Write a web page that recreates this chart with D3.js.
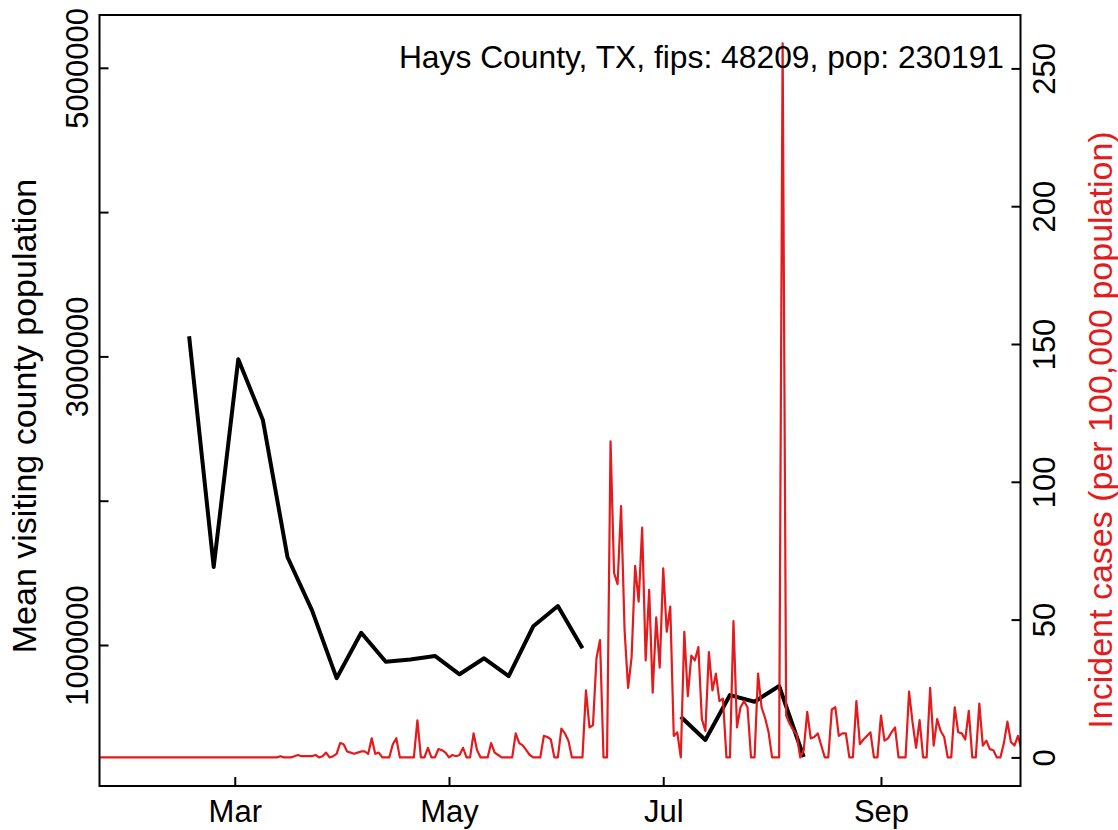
<!DOCTYPE html>
<html><head><meta charset="utf-8">
<script src="https://cdn.jsdelivr.net/npm/d3@7"></script>
<style>body{margin:0;background:#fff} svg{display:block} text{font-family:"Liberation Sans",Arial,sans-serif}</style>
</head><body><svg id="c" width="1118" height="830"></svg>
<script>
// ---------------- data ----------------
const redStartDate = "2020-01-22"; // daily series start
const redValues = [
0,0,0,0,0,0,0,0,0,0,
0,0,0,0,0,0,0,0,0,0,
0,0,0,0,0,0,0,0,0,0,
0,0,0,0,0,0,0,0,0,0,
0,0,0,0,0,0,0,0,0,0,
0,0,0.43,0,0,0,0.43,0.87,0.43,0.43,
0.43,0.43,0.87,0,0.43,1.74,0,0.43,1.3,5.21,
4.78,2.17,1.74,1.3,1.74,2.17,2.17,1.3,6.95,1.3,
1.74,0,0,0,4.78,6.95,0,0,0,0,
0,13.47,0,0,3.48,0,0,3.04,2.61,1.74,
0,0.87,0.43,0.87,3.48,0,0,8.69,2.61,0,
0,0,5.21,1.74,0.87,0,0,0,0,8.69,
5.21,4.34,2.61,0.87,0,0,0,7.82,7.39,6.52,
0,0,10.43,8.69,6.08,0,0,0,0,24.33,
10.86,11.73,36.06,42.57,0,0,114.7,66.9,62.9,91.2,
46.0,25.2,36.5,69.5,56.5,83.4,35.2,60.8,23.5,50.8,
32.6,68.6,45.6,54.7,7.8,9.1,0,45.6,22.2,36.9,
35.2,40.0,13.9,9.6,38.2,24.3,30.4,20.4,21.3,0,
0,49.5,10.9,18.2,20.4,18.2,0,0,30.4,18.2,
14.3,9.1,0,0,0,259.1,15.2,12.2,10.0,8.3,
0,2.6,16.5,6.9,7.4,8.7,4.3,0,0,17.4,
18.2,7.8,8.7,8.7,0,0,20.4,4.8,6.5,7.8,
9.1,0,0,15.2,6.1,6.9,9.1,10.9,0,0,
0,23.9,12.6,3.5,13.5,0,0,25.2,4.3,13.9,
9.6,7.4,0,0,18.2,9.1,8.7,6.5,16.9,0,
0,19.5,4.3,6.1,3.0,2.6,0,0,5.2,13.0,
5.6,4.3,7.8,3.0
];
const blackStartDate = "2020-02-17"; // weekly series start
const blackValues = [
3140000,1540000,2980000,2560000,1610000,1240000,770000,1085000,884000,900000,
924000,797000,908000,785000,1130000,1270000,977000,null,null,null,
503000,342000,653000,607000,716000,224000
];
const leftTicks = [1000000,2000000,3000000,4000000,5000000];
const leftTickLabels = ["1000000","","3000000","","5000000"];
const rightTicks = [0,50,100,150,200,250];
const xTickDates = ["2020-03-01","2020-05-01","2020-07-01","2020-09-01"];
const xTickLabels = ["Mar","May","Jul","Sep"];
const titleText = "Hays County, TX, fips: 48209, pop: 230191";
const leftLabel = "Mean visiting county population";
const rightLabel = "Incident cases (per 100,000 population)";

// ---------------- layout ----------------
const RED = "#E41A1C";
const box = {l: 99.5, r: 1020.5, t: 15, b: 786};
const dayMs = 86400000;
const parse = s => new Date(s + "T00:00:00Z");
const red0 = parse(redStartDate);
const black0 = parse(blackStartDate);
const redData = redValues.map((v, i) => ({d: new Date(+red0 + i * dayMs), v}));
const blackData = blackValues.map((v, i) => ({d: new Date(+black0 + i * 7 * dayMs), v}));

const x = d3.scaleUtc()
  .domain([red0, new Date(+red0 + 262 * dayMs)])
  .range([97.8, 97.8 + 262 * 3.512]);
const yR = d3.scaleLinear().domain([0, 250]).range([757.4, 68.4]);
const yL = d3.scaleLinear().domain([1000000, 5000000]).range([645, 67.8]);

const svg = d3.select("#c");
svg.append("defs").append("clipPath").attr("id", "clip")
  .append("rect").attr("x", box.l).attr("y", box.t)
  .attr("width", box.r - box.l).attr("height", box.b - box.t);

const plot = svg.append("g").attr("clip-path", "url(#clip)");

plot.append("path").datum(blackData)
  .attr("fill", "none").attr("stroke", "#000").attr("stroke-width", 4)
  .attr("stroke-linejoin", "round")
  .attr("d", d3.line().defined(d => d.v != null).x(d => x(d.d)).y(d => yL(d.v)));

plot.append("path").datum(redData)
  .attr("fill", "none").attr("stroke", RED).attr("stroke-width", 2.2)
  .attr("stroke-linejoin", "round")
  .attr("d", d3.line().x(d => x(d.d)).y(d => yR(d.v)));

// box
svg.append("rect").attr("x", box.l).attr("y", box.t)
  .attr("width", box.r - box.l).attr("height", box.b - box.t)
  .attr("fill", "none").attr("stroke", "#000").attr("stroke-width", 2);

const FS = 31;
// bottom axis
const gx = svg.append("g").attr("transform", `translate(0,${box.b})`)
  .call(d3.axisBottom(x).tickValues(xTickDates.map(parse))
    .tickFormat((d, i) => xTickLabels[i]).tickSize(-9).tickPadding(14));
gx.select(".domain").remove();
gx.selectAll("line").attr("stroke", "#000").attr("stroke-width", 2);
gx.selectAll("text").attr("font-size", FS).attr("fill", "#000")
  .style("font-family", "'Liberation Sans',Arial,sans-serif");

// left axis
const gl = svg.append("g").attr("transform", `translate(${box.l},0)`)
  .call(d3.axisLeft(yL).tickValues(leftTicks)
    .tickFormat((d, i) => leftTickLabels[i]).tickSize(-9));
gl.select(".domain").remove();
gl.selectAll("line").attr("stroke", "#000").attr("stroke-width", 2);
gl.selectAll("text").attr("font-size", FS).attr("fill", "#000")
  .attr("x", null).attr("dy", null).attr("text-anchor", "middle")
  .attr("transform", "translate(-11.5,0) rotate(-90)")
  .style("font-family", "'Liberation Sans',Arial,sans-serif");

// right axis
const gr = svg.append("g").attr("transform", `translate(${box.r},0)`)
  .call(d3.axisRight(yR).tickValues(rightTicks).tickFormat(d3.format("d")).tickSize(-9));
gr.select(".domain").remove();
gr.selectAll("line").attr("stroke", "#000").attr("stroke-width", 2);
gr.selectAll("text").attr("font-size", FS).attr("fill", "#000")
  .attr("x", null).attr("dy", null).attr("text-anchor", "middle")
  .attr("transform", "translate(34.5,0) rotate(-90)")
  .style("font-family", "'Liberation Sans',Arial,sans-serif");

// axis titles
svg.append("text").attr("transform", "translate(36,416) rotate(-90)")
  .attr("text-anchor", "middle").attr("font-size", 34).attr("fill", "#000").text(leftLabel);
svg.append("text").attr("transform", "translate(1112,430) rotate(-90)")
  .attr("text-anchor", "middle").attr("font-size", 34).attr("fill", RED).text(rightLabel);

// legend-like title
svg.append("text").attr("x", 1004).attr("y", 68).attr("text-anchor", "end")
  .attr("font-size", 31.8).attr("fill", "#000").text(titleText);
</script></body></html>
